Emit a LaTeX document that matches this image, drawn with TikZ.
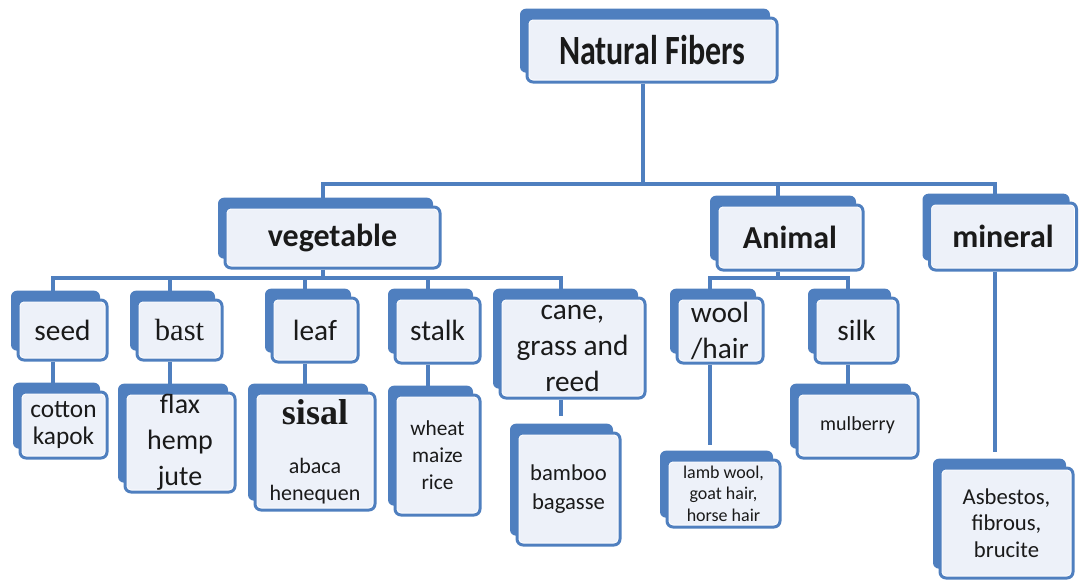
\documentclass[tikz,border=0pt]{standalone}
\usepackage{fontspec}
\setmainfont{Carlito}
\newfontfamily\serifface{Liberation Serif}
\usetikzlibrary{shadows,backgrounds,calc}
\definecolor{fblue}{HTML}{4F7FBF}
\definecolor{ffill}{HTML}{EDF1F9}
\definecolor{ftext}{HTML}{1A1A1A}
\tikzset{
  fbox/.style={rectangle, rounded corners=4.5pt, draw=fblue, line width=2.25pt,
    fill=ffill, text=ftext, align=center, inner sep=0pt,
    general shadow={fill=fblue, shadow xshift=-5.25pt, shadow yshift=7pt},
    path picture={\draw[white,line width=3.6pt,rounded corners=4.5pt]
      (path picture bounding box.south west) rectangle (path picture bounding box.north east);}},
  sz/.style 2 args={minimum width=#1*0.75pt, minimum height=#2*0.75pt},
  conn/.style={draw=fblue, line width=3pt},
  lvlone/.style={font=\fontsize{24}{28}\selectfont\bfseries},
  lvltwo/.style={font=\fontsize{22}{27}\selectfont},
}
\begin{document}
\begin{tikzpicture}[x=0.75pt,y=-0.75pt]
\useasboundingbox (0,0) rectangle (1079,586);
% level 0 and 1
\node[fbox,sz={250}{64},lvlone] (nat) at (652,50) {\scalebox{1}[1.3]{Natural Fibers}};
\node[fbox,sz={215}{61},lvlone] (veg) at (332.5,237.5) {vegetable};
\node[fbox,sz={146}{65},lvlone] (ani) at (790,237.5) {Animal};
\node[fbox,sz={147}{67},lvlone] (min) at (1003,236.5) {mineral};
% level 2
\node[fbox,sz={89}{60},lvltwo] (seed) at (62.5,330) {seed};
\node[fbox,sz={85}{60},font=\serifface\fontsize{23}{27}\selectfont] (bast) at (179.5,330) {bast};
\node[fbox,sz={86}{64},lvltwo] (leaf) at (315,330) {leaf};
\node[fbox,sz={85}{65},lvltwo] (stalk) at (437.5,330.5) {stalk};
\node[fbox,sz={145}{100},lvltwo] (cane) at (572.5,348) {cane,\\grass and\\reed};
\node[fbox,sz={86}{65},lvltwo] (wool) at (720,330.5) {wool\\/hair};
\node[fbox,sz={83}{65},lvltwo] (silk) at (856.5,330.5) {silk};
% level 3
\node[fbox,sz={87}{66},font=\fontsize{19}{20}\selectfont] (cotton) at (63.5,425) {cotton\\kapok};
\node[fbox,sz={110}{99},font=\fontsize{21}{27}\selectfont] (flax) at (180,442.5) {flax\\hemp\\jute};
\node[fbox,sz={120}{117},font=\fontsize{16.5}{20}\selectfont] (sisal) at (315,451.5)
  {{\serifface\bfseries\fontsize{27}{30}\selectfont sisal}\\[17pt]abaca\\henequen};
\node[fbox,sz={85}{120},font=\fontsize{16}{20}\selectfont] (wheat) at (437.5,455) {wheat\\maize\\rice};
\node[fbox,sz={103}{112},font=\fontsize{17}{22}\selectfont] (bamboo) at (568.5,489) {bamboo\\bagasse};
\node[fbox,sz={113}{67},font=\fontsize{13.5}{16}\selectfont] (lamb) at (723.5,493.5) {lamb wool,\\goat hair,\\horse hair};
\node[fbox,sz={121}{65},font=\fontsize{15}{18}\selectfont] (mulb) at (857.5,425.5) {mulberry};
\node[fbox,sz={133}{110},font=\fontsize{17}{20}\selectfont] (asb) at (1006.5,523) {Asbestos,\\fibrous,\\brucite};
% connectors
\begin{pgfonlayer}{background}
\coordinate (tb) at (0,184);
\coordinate (vb) at (0,278);
\coordinate (ns) at ($(nat.south)+(-9,0)$);
\coordinate (vn) at ($(veg.north)+(-10,0)$);
\coordinate (vs) at ($(veg.south)+(-10,0)$);
\coordinate (an) at ($(ani.north)+(-12,0)$);
\coordinate (as) at ($(ani.south)+(-12,0)$);
\coordinate (mn) at ($(min.north)+(-8,0)$);
\coordinate (ms) at ($(min.south)+(-8,0)$);
\coordinate (seedn) at ($(seed.north)+(-10,0)$);
\coordinate (seeds) at ($(seed.south)+(-10,0)$);
\coordinate (bastn) at ($(bast.north)+(-10,0)$);
\coordinate (basts) at ($(bast.south)+(-10,0)$);
\coordinate (leafn) at ($(leaf.north)+(-10,0)$);
\coordinate (leafs) at ($(leaf.south)+(-10,0)$);
\coordinate (stalkn) at ($(stalk.north)+(-10,0)$);
\coordinate (stalks) at ($(stalk.south)+(-10,0)$);
\coordinate (canen) at ($(cane.north)+(-12,0)$);
\coordinate (canes) at ($(cane.south)+(-12,0)$);
\coordinate (wooln) at ($(wool.north)+(-10,0)$);
\coordinate (wools) at ($(wool.south)+(-10,0)$);
\coordinate (silkn) at ($(silk.north)+(-9,0)$);
\coordinate (silks) at ($(silk.south)+(-9,0)$);
\draw[conn] (ns) -- (ns |- tb);
\draw[conn] (vn) -- (vn |- tb) -- (mn |- tb) -- (mn);
\draw[conn] (an) -- (an |- tb);
\draw[conn] (vs) -- (vs |- vb);
\draw[conn] (seedn) -- (seedn |- vb) -- (canen |- vb) -- (canen);
\draw[conn] (bastn) -- (bastn |- vb);
\draw[conn] (leafn) -- (leafn |- vb);
\draw[conn] (stalkn) -- (stalkn |- vb);
\draw[conn] (as) -- (as |- vb);
\draw[conn] (wooln) -- (wooln |- vb) -- (silkn |- vb) -- (silkn);
\draw[conn] (seeds) -- (seeds |- cotton.north);
\draw[conn] (basts) -- (basts |- flax.north);
\draw[conn] (leafs) -- (leafs |- sisal.north);
\draw[conn] (stalks) -- (stalks |- wheat.north);
\draw[conn,shorten >=12pt] (canes) -- (canes |- bamboo.north);
\draw[conn,shorten >=10pt] (wools) -- (wools |- lamb.north);
\draw[conn] (silks) -- (silks |- mulb.north);
\draw[conn,shorten >=11pt] (ms) -- (ms |- asb.north);
\end{pgfonlayer}
\end{tikzpicture}
\end{document}
